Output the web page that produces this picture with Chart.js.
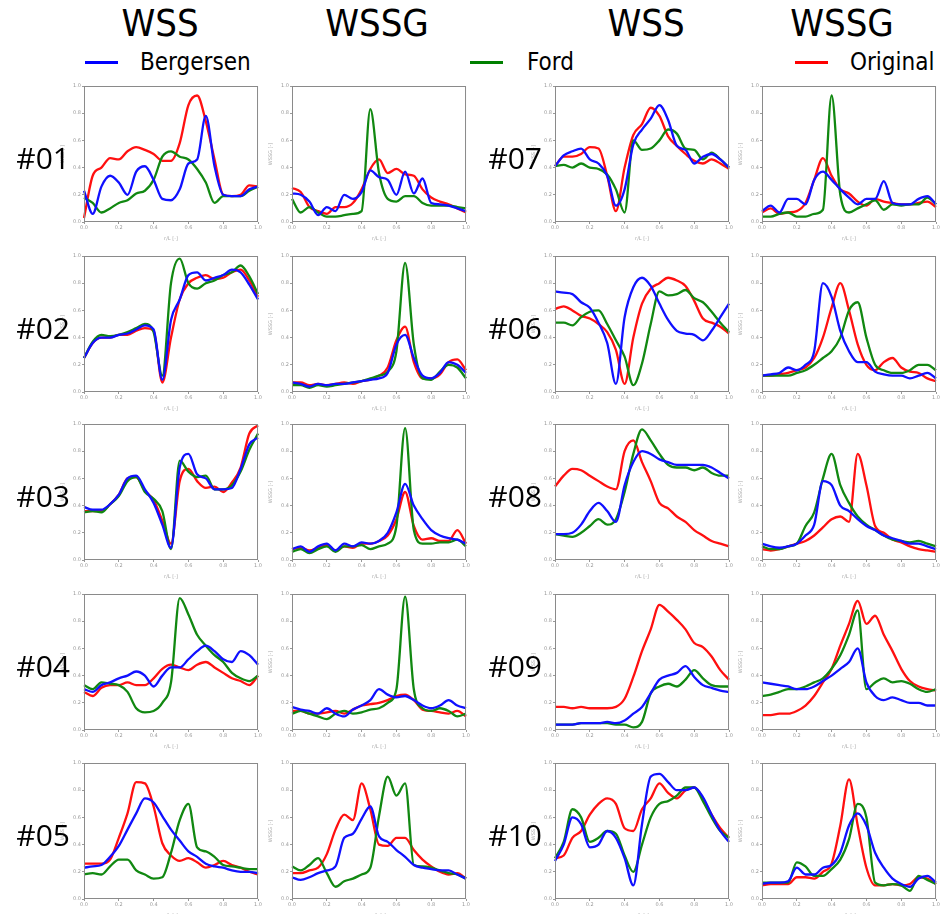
<!DOCTYPE html>
<html>
<head>
<meta charset="utf-8">
<script src="https://cdn.jsdelivr.net/npm/chart.js@4.4.1/dist/chart.umd.min.js"></script>
<style>
  body { margin: 0; background: #fff; width: 944px; height: 914px; position: relative; overflow: hidden; }
  .hdr { position: absolute; top: 1px; font-family: "Liberation Sans Narrow", "DejaVu Sans Condensed", sans-serif; font-size: 38px; line-height: 44px; color: #000; transform: translateX(-50%); white-space: nowrap; }
  .leg { position: absolute; top: 48px; font-family: "Liberation Sans Narrow", "DejaVu Sans Condensed", sans-serif; font-size: 24px; line-height: 28px; color: #000; white-space: nowrap; }
  .legline { position: absolute; top: 61px; height: 3px; width: 33px; }
  .row { position: absolute; font-family: "Open Sans", sans-serif; font-size: 30px; line-height: 34px; color: #000; text-align: right; width: 80px; }
  canvas { position: absolute; }
</style>
</head>
<body>
<div class="hdr" style="left:160px">WSS</div>
<div class="hdr" style="left:377px">WSSG</div>
<div class="hdr" style="left:646px">WSS</div>
<div class="hdr" style="left:842px">WSSG</div>

<div class="legline" style="left:85px;background:#0000ff"></div>
<div class="leg" style="left:140px">Bergersen</div>
<div class="legline" style="left:470px;background:#008000"></div>
<div class="leg" style="left:527px">Ford</div>
<div class="legline" style="left:795px;background:#ff0000"></div>
<div class="leg" style="left:850px">Original</div>

<script>
// r/L positions shared by every panel
const xLabels = [0, 0.05, 0.1, 0.15, 0.2, 0.25, 0.3, 0.35, 0.4, 0.45, 0.5, 0.55, 0.6, 0.65, 0.7, 0.75, 0.8, 0.85, 0.9, 0.95, 1.0];

// normalised WSS / WSSG per case: B = Bergersen, F = Ford, O = Original
const wss01B = [0.23,0.06,0.26,0.34,0.29,0.20,0.37,0.41,0.31,0.17,0.16,0.24,0.43,0.46,0.78,0.41,0.20,0.19,0.19,0.24,0.26];
const wss01F = [0.18,0.14,0.07,0.10,0.14,0.16,0.21,0.23,0.31,0.48,0.52,0.48,0.46,0.39,0.29,0.14,0.19,0.19,0.19,0.23,0.26];
const wss01O = [0.03,0.34,0.40,0.47,0.46,0.52,0.55,0.53,0.50,0.45,0.45,0.58,0.86,0.93,0.74,0.46,0.20,0.19,0.20,0.27,0.26];
const wssg01B = [0.21,0.20,0.15,0.05,0.11,0.08,0.20,0.17,0.22,0.38,0.33,0.31,0.20,0.37,0.21,0.32,0.14,0.13,0.12,0.10,0.08];
const wssg01F = [0.17,0.07,0.11,0.07,0.04,0.04,0.05,0.06,0.08,0.83,0.36,0.17,0.15,0.19,0.19,0.14,0.12,0.12,0.12,0.11,0.10];
const wssg01O = [0.25,0.22,0.11,0.08,0.06,0.11,0.11,0.14,0.24,0.39,0.46,0.36,0.39,0.35,0.34,0.24,0.18,0.15,0.13,0.10,0.07];

const wss02B = [0.25,0.36,0.40,0.40,0.42,0.43,0.46,0.49,0.46,0.09,0.53,0.68,0.86,0.88,0.82,0.84,0.86,0.90,0.88,0.79,0.68];
const wss02F = [0.25,0.37,0.42,0.41,0.42,0.44,0.47,0.50,0.44,0.12,0.80,0.98,0.80,0.76,0.80,0.82,0.86,0.88,0.93,0.85,0.72];
const wss02O = [0.25,0.36,0.40,0.40,0.42,0.42,0.45,0.47,0.45,0.07,0.40,0.68,0.80,0.84,0.86,0.83,0.84,0.88,0.90,0.82,0.70];
const wssg02B = [0.07,0.06,0.04,0.06,0.05,0.06,0.06,0.07,0.08,0.09,0.10,0.14,0.35,0.42,0.25,0.12,0.10,0.14,0.22,0.20,0.14];
const wssg02F = [0.05,0.05,0.03,0.05,0.04,0.05,0.06,0.07,0.08,0.10,0.12,0.15,0.30,0.95,0.35,0.10,0.09,0.15,0.20,0.18,0.10];
const wssg02O = [0.07,0.07,0.05,0.06,0.05,0.06,0.07,0.06,0.08,0.09,0.12,0.18,0.38,0.48,0.22,0.10,0.10,0.13,0.22,0.24,0.16];

const wss03B = [0.39,0.37,0.37,0.41,0.48,0.60,0.62,0.52,0.42,0.26,0.09,0.68,0.78,0.63,0.60,0.52,0.52,0.53,0.67,0.85,0.90];
const wss03F = [0.35,0.36,0.35,0.41,0.47,0.58,0.61,0.50,0.45,0.36,0.08,0.73,0.65,0.61,0.62,0.52,0.52,0.55,0.65,0.81,0.93];
const wss03O = [0.36,0.36,0.36,0.41,0.48,0.60,0.61,0.51,0.44,0.29,0.12,0.58,0.67,0.58,0.53,0.54,0.50,0.57,0.68,0.93,0.99];
const wssg03B = [0.08,0.10,0.06,0.10,0.12,0.07,0.12,0.10,0.13,0.12,0.14,0.20,0.35,0.56,0.40,0.30,0.22,0.18,0.16,0.15,0.12];
const wssg03F = [0.06,0.08,0.05,0.08,0.10,0.06,0.10,0.10,0.11,0.08,0.10,0.12,0.25,0.97,0.22,0.12,0.12,0.13,0.13,0.15,0.10];
const wssg03O = [0.08,0.09,0.07,0.09,0.11,0.07,0.10,0.09,0.12,0.12,0.14,0.18,0.30,0.50,0.25,0.15,0.16,0.14,0.14,0.22,0.12];

const wss04B = [0.30,0.28,0.33,0.35,0.38,0.40,0.43,0.40,0.32,0.40,0.46,0.46,0.52,0.58,0.62,0.58,0.52,0.50,0.58,0.55,0.48];
const wss04F = [0.33,0.30,0.35,0.34,0.33,0.28,0.16,0.13,0.14,0.20,0.35,0.97,0.85,0.70,0.62,0.55,0.50,0.42,0.38,0.36,0.40];
const wss04O = [0.28,0.25,0.31,0.33,0.33,0.35,0.33,0.33,0.38,0.45,0.48,0.46,0.44,0.48,0.50,0.46,0.42,0.38,0.36,0.33,0.40];
const wssg04B = [0.17,0.15,0.14,0.12,0.16,0.12,0.10,0.15,0.18,0.22,0.30,0.26,0.24,0.25,0.22,0.18,0.16,0.18,0.22,0.18,0.16];
const wssg04F = [0.12,0.14,0.12,0.10,0.08,0.12,0.14,0.12,0.13,0.15,0.16,0.20,0.30,0.98,0.30,0.16,0.14,0.16,0.14,0.10,0.12];
const wssg04O = [0.14,0.14,0.12,0.12,0.13,0.14,0.12,0.15,0.18,0.19,0.20,0.22,0.25,0.26,0.22,0.15,0.14,0.13,0.12,0.14,0.10];

const wss05B = [0.23,0.24,0.25,0.31,0.39,0.51,0.63,0.74,0.71,0.61,0.51,0.43,0.35,0.31,0.26,0.24,0.23,0.21,0.20,0.20,0.19];
const wss05F = [0.18,0.19,0.18,0.24,0.29,0.29,0.21,0.18,0.15,0.16,0.34,0.58,0.70,0.38,0.35,0.31,0.25,0.24,0.23,0.22,0.22];
const wss05O = [0.26,0.26,0.26,0.29,0.45,0.63,0.86,0.85,0.68,0.41,0.32,0.28,0.30,0.27,0.23,0.25,0.28,0.25,0.23,0.20,0.18];
const wssg05B = [0.16,0.14,0.16,0.19,0.21,0.24,0.45,0.48,0.59,0.68,0.46,0.42,0.36,0.31,0.25,0.23,0.22,0.21,0.21,0.18,0.15];
const wssg05F = [0.24,0.21,0.25,0.30,0.19,0.09,0.13,0.15,0.18,0.23,0.61,0.90,0.76,0.85,0.25,0.24,0.23,0.21,0.19,0.18,0.15];
const wssg05O = [0.19,0.19,0.21,0.23,0.33,0.51,0.62,0.58,0.85,0.66,0.40,0.39,0.45,0.45,0.36,0.29,0.24,0.20,0.18,0.19,0.15];

const wss06B = [0.74,0.73,0.72,0.66,0.62,0.51,0.36,0.06,0.55,0.77,0.84,0.78,0.65,0.53,0.45,0.43,0.42,0.38,0.45,0.55,0.65];
const wss06F = [0.51,0.51,0.49,0.55,0.59,0.60,0.50,0.38,0.26,0.05,0.21,0.50,0.74,0.71,0.72,0.75,0.69,0.66,0.59,0.51,0.44];
const wss06O = [0.61,0.63,0.60,0.56,0.54,0.50,0.44,0.31,0.06,0.40,0.65,0.76,0.80,0.84,0.82,0.78,0.67,0.54,0.51,0.48,0.43];
const wssg06B = [0.12,0.13,0.14,0.18,0.16,0.20,0.30,0.80,0.70,0.45,0.30,0.22,0.22,0.15,0.13,0.12,0.12,0.10,0.12,0.14,0.10];
const wssg06F = [0.12,0.12,0.12,0.12,0.14,0.16,0.20,0.25,0.30,0.40,0.60,0.66,0.40,0.20,0.16,0.14,0.14,0.16,0.20,0.20,0.16];
const wssg06O = [0.12,0.12,0.13,0.14,0.16,0.18,0.25,0.40,0.62,0.80,0.60,0.35,0.20,0.16,0.22,0.25,0.18,0.15,0.14,0.10,0.08];

const wss07B = [0.41,0.49,0.52,0.54,0.46,0.43,0.34,0.12,0.24,0.57,0.68,0.76,0.86,0.75,0.56,0.53,0.43,0.48,0.50,0.46,0.40];
const wss07F = [0.41,0.42,0.40,0.43,0.40,0.39,0.35,0.24,0.07,0.60,0.53,0.54,0.60,0.68,0.65,0.54,0.53,0.46,0.51,0.46,0.40];
const wss07O = [0.41,0.48,0.48,0.50,0.55,0.54,0.34,0.08,0.40,0.64,0.72,0.84,0.78,0.63,0.56,0.50,0.45,0.43,0.46,0.43,0.39];
const wssg07B = [0.08,0.12,0.07,0.17,0.17,0.13,0.31,0.37,0.31,0.24,0.18,0.13,0.17,0.17,0.30,0.14,0.13,0.13,0.17,0.19,0.13];
const wssg07F = [0.04,0.04,0.06,0.07,0.04,0.04,0.06,0.09,0.93,0.20,0.07,0.10,0.13,0.16,0.09,0.13,0.12,0.13,0.13,0.18,0.13];
const wssg07O = [0.07,0.10,0.06,0.07,0.08,0.14,0.31,0.47,0.34,0.24,0.21,0.15,0.12,0.17,0.15,0.14,0.13,0.13,0.14,0.15,0.11];

const wss08B = [0.19,0.19,0.20,0.26,0.36,0.42,0.36,0.28,0.55,0.72,0.80,0.78,0.74,0.72,0.70,0.70,0.70,0.70,0.68,0.64,0.60];
const wss08F = [0.19,0.18,0.17,0.20,0.25,0.30,0.26,0.30,0.50,0.78,0.96,0.88,0.78,0.70,0.68,0.68,0.66,0.68,0.64,0.62,0.62];
const wss08O = [0.54,0.62,0.67,0.66,0.62,0.58,0.54,0.52,0.80,0.88,0.72,0.58,0.42,0.38,0.32,0.28,0.22,0.18,0.14,0.12,0.10];
const wssg08B = [0.12,0.10,0.09,0.10,0.12,0.18,0.26,0.58,0.55,0.40,0.36,0.30,0.25,0.22,0.18,0.16,0.14,0.12,0.12,0.10,0.08];
const wssg08F = [0.10,0.08,0.08,0.10,0.12,0.25,0.35,0.60,0.78,0.55,0.42,0.32,0.26,0.22,0.18,0.15,0.14,0.13,0.14,0.12,0.10];
const wssg08O = [0.08,0.07,0.08,0.10,0.12,0.14,0.18,0.24,0.30,0.32,0.28,0.78,0.55,0.25,0.20,0.15,0.13,0.10,0.08,0.07,0.06];

const wss09B = [0.04,0.04,0.04,0.05,0.05,0.05,0.06,0.05,0.07,0.12,0.17,0.27,0.37,0.40,0.42,0.47,0.39,0.33,0.31,0.29,0.28];
const wss09F = [0.04,0.04,0.04,0.05,0.05,0.05,0.05,0.04,0.04,0.02,0.06,0.27,0.32,0.34,0.32,0.37,0.44,0.38,0.33,0.32,0.32];
const wss09O = [0.17,0.17,0.16,0.17,0.16,0.16,0.16,0.17,0.23,0.39,0.58,0.74,0.92,0.87,0.81,0.74,0.64,0.61,0.54,0.44,0.37];
const wssg09B = [0.35,0.34,0.33,0.32,0.30,0.30,0.32,0.36,0.40,0.45,0.50,0.60,0.35,0.25,0.22,0.24,0.22,0.20,0.20,0.18,0.18];
const wssg09F = [0.25,0.26,0.28,0.30,0.30,0.32,0.35,0.38,0.45,0.55,0.70,0.88,0.30,0.35,0.38,0.35,0.36,0.34,0.30,0.28,0.30];
const wssg09O = [0.11,0.11,0.12,0.12,0.14,0.18,0.25,0.35,0.45,0.62,0.78,0.95,0.78,0.84,0.70,0.58,0.45,0.36,0.32,0.30,0.29];

const wss10B = [0.28,0.40,0.60,0.55,0.38,0.40,0.50,0.45,0.30,0.10,0.55,0.90,0.92,0.86,0.80,0.80,0.82,0.75,0.62,0.50,0.42];
const wss10F = [0.30,0.42,0.66,0.60,0.42,0.45,0.50,0.48,0.32,0.20,0.40,0.60,0.70,0.72,0.76,0.82,0.82,0.72,0.60,0.50,0.45];
const wss10O = [0.30,0.32,0.45,0.50,0.62,0.70,0.74,0.70,0.52,0.50,0.66,0.74,0.85,0.78,0.74,0.80,0.82,0.74,0.62,0.52,0.45];
const wssg10B = [0.11,0.12,0.12,0.13,0.23,0.18,0.18,0.23,0.25,0.34,0.54,0.63,0.54,0.34,0.23,0.15,0.11,0.09,0.15,0.17,0.12];
const wssg10F = [0.12,0.12,0.12,0.12,0.27,0.24,0.17,0.17,0.22,0.29,0.44,0.70,0.60,0.12,0.10,0.11,0.10,0.06,0.17,0.14,0.11];
const wssg10O = [0.10,0.11,0.11,0.11,0.16,0.16,0.15,0.20,0.26,0.54,0.88,0.54,0.23,0.10,0.10,0.11,0.10,0.11,0.16,0.15,0.11];

// panel grid (plot-area corners in page pixels)
const colLeft = [84, 292, 555, 762];
const rowTop = [86, 256, 424, 594, 763];
const plotW = 176, plotH = 136;
const padL = 24, padT = 4, padR = 3, padB = 20;

const leftCases = ['01', '02', '03', '04', '05'];
const rightCases = ['07', '06', '08', '09', '10'];
const series = {
  '01': [wss01B, wss01F, wss01O, wssg01B, wssg01F, wssg01O],
  '02': [wss02B, wss02F, wss02O, wssg02B, wssg02F, wssg02O],
  '03': [wss03B, wss03F, wss03O, wssg03B, wssg03F, wssg03O],
  '04': [wss04B, wss04F, wss04O, wssg04B, wssg04F, wssg04O],
  '05': [wss05B, wss05F, wss05O, wssg05B, wssg05F, wssg05O],
  '06': [wss06B, wss06F, wss06O, wssg06B, wssg06F, wssg06O],
  '07': [wss07B, wss07F, wss07O, wssg07B, wssg07F, wssg07O],
  '08': [wss08B, wss08F, wss08O, wssg08B, wssg08F, wssg08O],
  '09': [wss09B, wss09F, wss09O, wssg09B, wssg09F, wssg09O],
  '10': [wss10B, wss10F, wss10O, wssg10B, wssg10F, wssg10O]
};

// draws the closed frame round each plot
const framePlugin = {
  id: 'frame',
  afterDraw(chart) {
    const a = chart.chartArea;
    const ctx = chart.ctx;
    ctx.save();
    ctx.strokeStyle = '#8a8a8a';
    ctx.lineWidth = 1;
    ctx.strokeRect(a.left + 0.5, a.top + 0.5, a.right - a.left - 1, a.bottom - a.top - 1);
    ctx.restore();
  }
};

function line(label, data, color) {
  return {
    label: label,
    data: data,
    borderColor: color,
    borderWidth: 2.3,
    pointRadius: 0,
    fill: false,
    cubicInterpolationMode: 'monotone'
  };
}

function makePanel(col, row, kind, b, f, o) {
  const canvas = document.createElement('canvas');
  canvas.width = plotW + padL + padR;
  canvas.height = plotH + padT + padB;
  canvas.style.left = (colLeft[col] - padL) + 'px';
  canvas.style.top = (rowTop[row] - padT) + 'px';
  document.body.appendChild(canvas);

  const tickFont = { size: 5, family: 'DejaVu Sans' };
  new Chart(canvas.getContext('2d'), {
    type: 'line',
    data: {
      labels: xLabels,
      datasets: [line('Bergersen', b, '#1010ff'), line('Ford', f, '#118811'), line('Original', o, '#ff1010')]
    },
    options: {
      responsive: false,
      animation: false,
      devicePixelRatio: 1,
      layout: { padding: { top: padT, right: padR, left: 0, bottom: 0 } },
      plugins: { legend: { display: false }, tooltip: { enabled: false } },
      scales: {
        x: {
          ticks: {
            autoSkip: false, maxRotation: 0, padding: 1, color: '#999', font: tickFont,
            callback: (v, i) => (i % 4 === 0 ? xLabels[i].toFixed(1) : null)
          },
          grid: { drawOnChartArea: false, tickLength: 2, color: '#999' },
          border: { display: false },
          title: { display: true, text: 'r/L [-]', color: '#aaa', font: tickFont, padding: 0 },
          afterFit: s => { s.height = padB; }
        },
        y: {
          min: 0, max: 1,
          ticks: { stepSize: 0.2, padding: 1, color: '#999', font: tickFont, callback: v => v.toFixed(1) },
          grid: { drawOnChartArea: false, tickLength: 2, color: '#999' },
          border: { display: false },
          title: { display: true, text: kind + ' [-]', color: '#aaa', font: tickFont, padding: 0 },
          afterFit: s => { s.width = padL; }
        }
      }
    },
    plugins: [framePlugin]
  });
}

function rowLabel(text, x, y) {
  const d = document.createElement('div');
  d.className = 'row';
  d.textContent = text;
  d.style.left = (x - 80) + 'px';
  d.style.top = (y - 17) + 'px';
  document.body.appendChild(d);
}

leftCases.forEach((id, r) => {
  const s = series[id];
  makePanel(0, r, 'WSS', s[0], s[1], s[2]);
  makePanel(1, r, 'WSSG', s[3], s[4], s[5]);
  rowLabel('#' + id, 70, rowTop[r] + 72);
});
rightCases.forEach((id, r) => {
  const s = series[id];
  makePanel(2, r, 'WSS', s[0], s[1], s[2]);
  makePanel(3, r, 'WSSG', s[3], s[4], s[5]);
  rowLabel('#' + id, 542, rowTop[r] + 72);
});
</script>
</body>
</html>
